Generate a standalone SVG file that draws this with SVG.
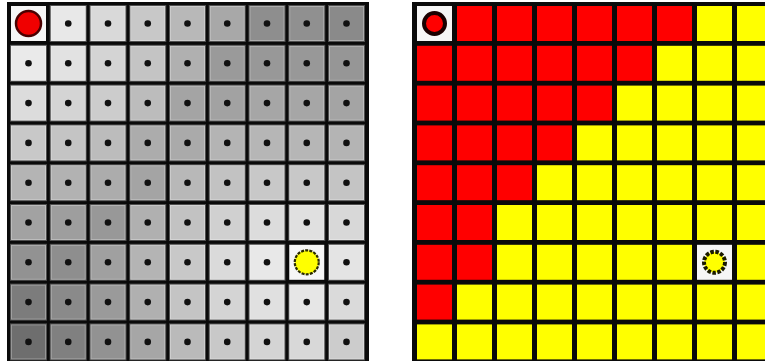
<svg xmlns="http://www.w3.org/2000/svg" width="765" height="361" viewBox="0 0 765 361">
<style>
.bg{fill:#0a0a0a}
.c{stroke:#ffffff;stroke-opacity:.28;stroke-width:2}
.d{fill:#111}
.r{fill:#ff0000}
.y{fill:#ffff00}
.w{fill:#f6f6f6}
</style>
<defs>
<circle id="dot" r="3.3" class="d"/>
</defs>
<rect width="765" height="361" fill="#ffffff"/>
<g id="left-grid">
<rect class="bg" x="7" y="2" width="362" height="362"/>
<g id="L0" transform="translate(0,6)">
<rect class="w" x="11" width="35" height="35"/>
<rect class="c" x="50.75" width="35" height="35" fill="#e8e8e8"/>
<rect class="c" x="90.5" width="35" height="35" fill="#d9d9d9"/>
<rect class="c" x="130.25" width="35" height="35" fill="#c8c8c8"/>
<rect class="c" x="170" width="35" height="35" fill="#b8b8b8"/>
<rect class="c" x="209.75" width="35" height="35" fill="#a8a8a8"/>
<rect class="c" x="249.5" width="35" height="35" fill="#8e8e8e"/>
<rect class="c" x="289.25" width="35" height="35" fill="#909090"/>
<rect class="c" x="329" width="35" height="35" fill="#8a8a8a"/>
</g>
<g id="L1" transform="translate(0,45.8)">
<rect class="c" x="11" width="35" height="35" fill="#eaeaea"/>
<rect class="c" x="50.75" width="35" height="35" fill="#e2e2e2"/>
<rect class="c" x="90.5" width="35" height="35" fill="#d4d4d4"/>
<rect class="c" x="130.25" width="35" height="35" fill="#c4c4c4"/>
<rect class="c" x="170" width="35" height="35" fill="#b0b0b0"/>
<rect class="c" x="209.75" width="35" height="35" fill="#9a9a9a"/>
<rect class="c" x="249.5" width="35" height="35" fill="#989898"/>
<rect class="c" x="289.25" width="35" height="35" fill="#989898"/>
<rect class="c" x="329" width="35" height="35" fill="#969696"/>
</g>
<g id="L2" transform="translate(0,85.6)">
<rect class="c" x="11" width="35" height="35" fill="#dcdcdc"/>
<rect class="c" x="50.75" width="35" height="35" fill="#d4d4d4"/>
<rect class="c" x="90.5" width="35" height="35" fill="#cccccc"/>
<rect class="c" x="130.25" width="35" height="35" fill="#bcbcbc"/>
<rect class="c" x="170" width="35" height="35" fill="#a4a4a4"/>
<rect class="c" x="209.75" width="35" height="35" fill="#a2a2a2"/>
<rect class="c" x="249.5" width="35" height="35" fill="#a6a6a6"/>
<rect class="c" x="289.25" width="35" height="35" fill="#a6a6a6"/>
<rect class="c" x="329" width="35" height="35" fill="#a4a4a4"/>
</g>
<g id="L3" transform="translate(0,125.4)">
<rect class="c" x="11" width="35" height="35" fill="#c8c8c8"/>
<rect class="c" x="50.75" width="35" height="35" fill="#c4c4c4"/>
<rect class="c" x="90.5" width="35" height="35" fill="#bcbcbc"/>
<rect class="c" x="130.25" width="35" height="35" fill="#acacac"/>
<rect class="c" x="170" width="35" height="35" fill="#aaaaaa"/>
<rect class="c" x="209.75" width="35" height="35" fill="#b4b4b4"/>
<rect class="c" x="249.5" width="35" height="35" fill="#b6b6b6"/>
<rect class="c" x="289.25" width="35" height="35" fill="#b6b6b6"/>
<rect class="c" x="329" width="35" height="35" fill="#b4b4b4"/>
</g>
<g id="L4" transform="translate(0,165.2)">
<rect class="c" x="11" width="35" height="35" fill="#b4b4b4"/>
<rect class="c" x="50.75" width="35" height="35" fill="#b2b2b2"/>
<rect class="c" x="90.5" width="35" height="35" fill="#acacac"/>
<rect class="c" x="130.25" width="35" height="35" fill="#a4a4a4"/>
<rect class="c" x="170" width="35" height="35" fill="#b8b8b8"/>
<rect class="c" x="209.75" width="35" height="35" fill="#c2c2c2"/>
<rect class="c" x="249.5" width="35" height="35" fill="#c8c8c8"/>
<rect class="c" x="289.25" width="35" height="35" fill="#c8c8c8"/>
<rect class="c" x="329" width="35" height="35" fill="#c4c4c4"/>
</g>
<g id="L5" transform="translate(0,205)">
<rect class="c" x="11" width="35" height="35" fill="#a2a2a2"/>
<rect class="c" x="50.75" width="35" height="35" fill="#9e9e9e"/>
<rect class="c" x="90.5" width="35" height="35" fill="#989898"/>
<rect class="c" x="130.25" width="35" height="35" fill="#b0b0b0"/>
<rect class="c" x="170" width="35" height="35" fill="#c2c2c2"/>
<rect class="c" x="209.75" width="35" height="35" fill="#d0d0d0"/>
<rect class="c" x="249.5" width="35" height="35" fill="#dcdcdc"/>
<rect class="c" x="289.25" width="35" height="35" fill="#e0e0e0"/>
<rect class="c" x="329" width="35" height="35" fill="#d8d8d8"/>
</g>
<g id="L6" transform="translate(0,244.8)">
<rect class="c" x="11" width="35" height="35" fill="#929292"/>
<rect class="c" x="50.75" width="35" height="35" fill="#8e8e8e"/>
<rect class="c" x="90.5" width="35" height="35" fill="#a0a0a0"/>
<rect class="c" x="130.25" width="35" height="35" fill="#b4b4b4"/>
<rect class="c" x="170" width="35" height="35" fill="#c8c8c8"/>
<rect class="c" x="209.75" width="35" height="35" fill="#dadada"/>
<rect class="c" x="249.5" width="35" height="35" fill="#e8e8e8"/>
<rect class="w" x="289.25" width="35" height="35"/>
<rect class="c" x="329" width="35" height="35" fill="#e4e4e4"/>
</g>
<g id="L7" transform="translate(0,284.6)">
<rect class="c" x="11" width="35" height="35" fill="#7c7c7c"/>
<rect class="c" x="50.75" width="35" height="35" fill="#8a8a8a"/>
<rect class="c" x="90.5" width="35" height="35" fill="#9a9a9a"/>
<rect class="c" x="130.25" width="35" height="35" fill="#b0b0b0"/>
<rect class="c" x="170" width="35" height="35" fill="#c4c4c4"/>
<rect class="c" x="209.75" width="35" height="35" fill="#d4d4d4"/>
<rect class="c" x="249.5" width="35" height="35" fill="#e0e0e0"/>
<rect class="c" x="289.25" width="35" height="35" fill="#e6e6e6"/>
<rect class="c" x="329" width="35" height="35" fill="#dadada"/>
</g>
<g id="L8" transform="translate(0,324.4)">
<rect class="c" x="11" width="35" height="35" fill="#6e6e6e"/>
<rect class="c" x="50.75" width="35" height="35" fill="#808080"/>
<rect class="c" x="90.5" width="35" height="35" fill="#929292"/>
<rect class="c" x="130.25" width="35" height="35" fill="#a6a6a6"/>
<rect class="c" x="170" width="35" height="35" fill="#bababa"/>
<rect class="c" x="209.75" width="35" height="35" fill="#c8c8c8"/>
<rect class="c" x="249.5" width="35" height="35" fill="#d4d4d4"/>
<rect class="c" x="289.25" width="35" height="35" fill="#d8d8d8"/>
<rect class="c" x="329" width="35" height="35" fill="#cccccc"/>
</g>
<g id="left-dots">
<use href="#dot" x="68.25" y="23.5"/><use href="#dot" x="108" y="23.5"/><use href="#dot" x="147.75" y="23.5"/><use href="#dot" x="187.5" y="23.5"/><use href="#dot" x="227.25" y="23.5"/><use href="#dot" x="267" y="23.5"/><use href="#dot" x="306.75" y="23.5"/><use href="#dot" x="346.5" y="23.5"/>
<use href="#dot" x="28.5" y="63.3"/><use href="#dot" x="68.25" y="63.3"/><use href="#dot" x="108" y="63.3"/><use href="#dot" x="147.75" y="63.3"/><use href="#dot" x="187.5" y="63.3"/><use href="#dot" x="227.25" y="63.3"/><use href="#dot" x="267" y="63.3"/><use href="#dot" x="306.75" y="63.3"/><use href="#dot" x="346.5" y="63.3"/>
<use href="#dot" x="28.5" y="103.1"/><use href="#dot" x="68.25" y="103.1"/><use href="#dot" x="108" y="103.1"/><use href="#dot" x="147.75" y="103.1"/><use href="#dot" x="187.5" y="103.1"/><use href="#dot" x="227.25" y="103.1"/><use href="#dot" x="267" y="103.1"/><use href="#dot" x="306.75" y="103.1"/><use href="#dot" x="346.5" y="103.1"/>
<use href="#dot" x="28.5" y="142.9"/><use href="#dot" x="68.25" y="142.9"/><use href="#dot" x="108" y="142.9"/><use href="#dot" x="147.75" y="142.9"/><use href="#dot" x="187.5" y="142.9"/><use href="#dot" x="227.25" y="142.9"/><use href="#dot" x="267" y="142.9"/><use href="#dot" x="306.75" y="142.9"/><use href="#dot" x="346.5" y="142.9"/>
<use href="#dot" x="28.5" y="182.7"/><use href="#dot" x="68.25" y="182.7"/><use href="#dot" x="108" y="182.7"/><use href="#dot" x="147.75" y="182.7"/><use href="#dot" x="187.5" y="182.7"/><use href="#dot" x="227.25" y="182.7"/><use href="#dot" x="267" y="182.7"/><use href="#dot" x="306.75" y="182.7"/><use href="#dot" x="346.5" y="182.7"/>
<use href="#dot" x="28.5" y="222.5"/><use href="#dot" x="68.25" y="222.5"/><use href="#dot" x="108" y="222.5"/><use href="#dot" x="147.75" y="222.5"/><use href="#dot" x="187.5" y="222.5"/><use href="#dot" x="227.25" y="222.5"/><use href="#dot" x="267" y="222.5"/><use href="#dot" x="306.75" y="222.5"/><use href="#dot" x="346.5" y="222.5"/>
<use href="#dot" x="28.5" y="262.3"/><use href="#dot" x="68.25" y="262.3"/><use href="#dot" x="108" y="262.3"/><use href="#dot" x="147.75" y="262.3"/><use href="#dot" x="187.5" y="262.3"/><use href="#dot" x="227.25" y="262.3"/><use href="#dot" x="267" y="262.3"/><use href="#dot" x="346.5" y="262.3"/>
<use href="#dot" x="28.5" y="302.1"/><use href="#dot" x="68.25" y="302.1"/><use href="#dot" x="108" y="302.1"/><use href="#dot" x="147.75" y="302.1"/><use href="#dot" x="187.5" y="302.1"/><use href="#dot" x="227.25" y="302.1"/><use href="#dot" x="267" y="302.1"/><use href="#dot" x="306.75" y="302.1"/><use href="#dot" x="346.5" y="302.1"/>
<use href="#dot" x="28.5" y="341.9"/><use href="#dot" x="68.25" y="341.9"/><use href="#dot" x="108" y="341.9"/><use href="#dot" x="147.75" y="341.9"/><use href="#dot" x="187.5" y="341.9"/><use href="#dot" x="227.25" y="341.9"/><use href="#dot" x="267" y="341.9"/><use href="#dot" x="306.75" y="341.9"/><use href="#dot" x="346.5" y="341.9"/>
</g>
<g id="left-start"><circle cx="28.5" cy="23.5" r="12.5" fill="#f00000" stroke="#4a0000" stroke-width="2.5"/></g>
<g id="left-goal"><circle cx="306.75" cy="262.3" r="12" fill="#ffff00" stroke="#2a2a00" stroke-width="2.2" stroke-dasharray="3 1.2"/></g>
</g>
<g id="right-grid">
<rect class="bg" x="412" y="2" width="360" height="362"/>
<g id="R0" transform="translate(0,6)">
<rect class="w" x="417" width="35" height="35"/>
<rect class="r" x="457" width="35" height="35"/><rect class="r" x="497" width="35" height="35"/><rect class="r" x="537" width="35" height="35"/><rect class="r" x="577" width="35" height="35"/><rect class="r" x="617" width="35" height="35"/><rect class="r" x="657" width="35" height="35"/>
<rect class="y" x="697" width="35" height="35"/><rect class="y" x="737" width="35" height="35"/>
</g>
<g id="R1" transform="translate(0,45.8)">
<rect class="r" x="417" width="35" height="35"/><rect class="r" x="457" width="35" height="35"/><rect class="r" x="497" width="35" height="35"/><rect class="r" x="537" width="35" height="35"/><rect class="r" x="577" width="35" height="35"/><rect class="r" x="617" width="35" height="35"/>
<rect class="y" x="657" width="35" height="35"/><rect class="y" x="697" width="35" height="35"/><rect class="y" x="737" width="35" height="35"/>
</g>
<g id="R2" transform="translate(0,85.6)">
<rect class="r" x="417" width="35" height="35"/><rect class="r" x="457" width="35" height="35"/><rect class="r" x="497" width="35" height="35"/><rect class="r" x="537" width="35" height="35"/><rect class="r" x="577" width="35" height="35"/>
<rect class="y" x="617" width="35" height="35"/><rect class="y" x="657" width="35" height="35"/><rect class="y" x="697" width="35" height="35"/><rect class="y" x="737" width="35" height="35"/>
</g>
<g id="R3" transform="translate(0,125.4)">
<rect class="r" x="417" width="35" height="35"/><rect class="r" x="457" width="35" height="35"/><rect class="r" x="497" width="35" height="35"/><rect class="r" x="537" width="35" height="35"/>
<rect class="y" x="577" width="35" height="35"/><rect class="y" x="617" width="35" height="35"/><rect class="y" x="657" width="35" height="35"/><rect class="y" x="697" width="35" height="35"/><rect class="y" x="737" width="35" height="35"/>
</g>
<g id="R4" transform="translate(0,165.2)">
<rect class="r" x="417" width="35" height="35"/><rect class="r" x="457" width="35" height="35"/><rect class="r" x="497" width="35" height="35"/>
<rect class="y" x="537" width="35" height="35"/><rect class="y" x="577" width="35" height="35"/><rect class="y" x="617" width="35" height="35"/><rect class="y" x="657" width="35" height="35"/><rect class="y" x="697" width="35" height="35"/><rect class="y" x="737" width="35" height="35"/>
</g>
<g id="R5" transform="translate(0,205)">
<rect class="r" x="417" width="35" height="35"/><rect class="r" x="457" width="35" height="35"/>
<rect class="y" x="497" width="35" height="35"/><rect class="y" x="537" width="35" height="35"/><rect class="y" x="577" width="35" height="35"/><rect class="y" x="617" width="35" height="35"/><rect class="y" x="657" width="35" height="35"/><rect class="y" x="697" width="35" height="35"/><rect class="y" x="737" width="35" height="35"/>
</g>
<g id="R6" transform="translate(0,244.8)">
<rect class="r" x="417" width="35" height="35"/><rect class="r" x="457" width="35" height="35"/>
<rect class="y" x="497" width="35" height="35"/><rect class="y" x="537" width="35" height="35"/><rect class="y" x="577" width="35" height="35"/><rect class="y" x="617" width="35" height="35"/><rect class="y" x="657" width="35" height="35"/><rect class="w" x="697" width="35" height="35"/><rect class="y" x="737" width="35" height="35"/>
</g>
<g id="R7" transform="translate(0,284.6)">
<rect class="r" x="417" width="35" height="35"/>
<rect class="y" x="457" width="35" height="35"/><rect class="y" x="497" width="35" height="35"/><rect class="y" x="537" width="35" height="35"/><rect class="y" x="577" width="35" height="35"/><rect class="y" x="617" width="35" height="35"/><rect class="y" x="657" width="35" height="35"/><rect class="y" x="697" width="35" height="35"/><rect class="y" x="737" width="35" height="35"/>
</g>
<g id="R8" transform="translate(0,324.4)">
<rect class="y" x="417" width="35" height="35"/><rect class="y" x="457" width="35" height="35"/><rect class="y" x="497" width="35" height="35"/><rect class="y" x="537" width="35" height="35"/><rect class="y" x="577" width="35" height="35"/><rect class="y" x="617" width="35" height="35"/><rect class="y" x="657" width="35" height="35"/><rect class="y" x="697" width="35" height="35"/><rect class="y" x="737" width="35" height="35"/>
</g>
<g id="right-start"><circle cx="434.5" cy="23.5" r="10.5" fill="#ff0000" stroke="#1a0000" stroke-width="4"/></g>
<g id="right-goal"><circle cx="714.5" cy="262.3" r="10.5" fill="#ffff00" stroke="#1a1a00" stroke-width="4" stroke-dasharray="3.5 1.5"/></g>
</g>
</svg>
